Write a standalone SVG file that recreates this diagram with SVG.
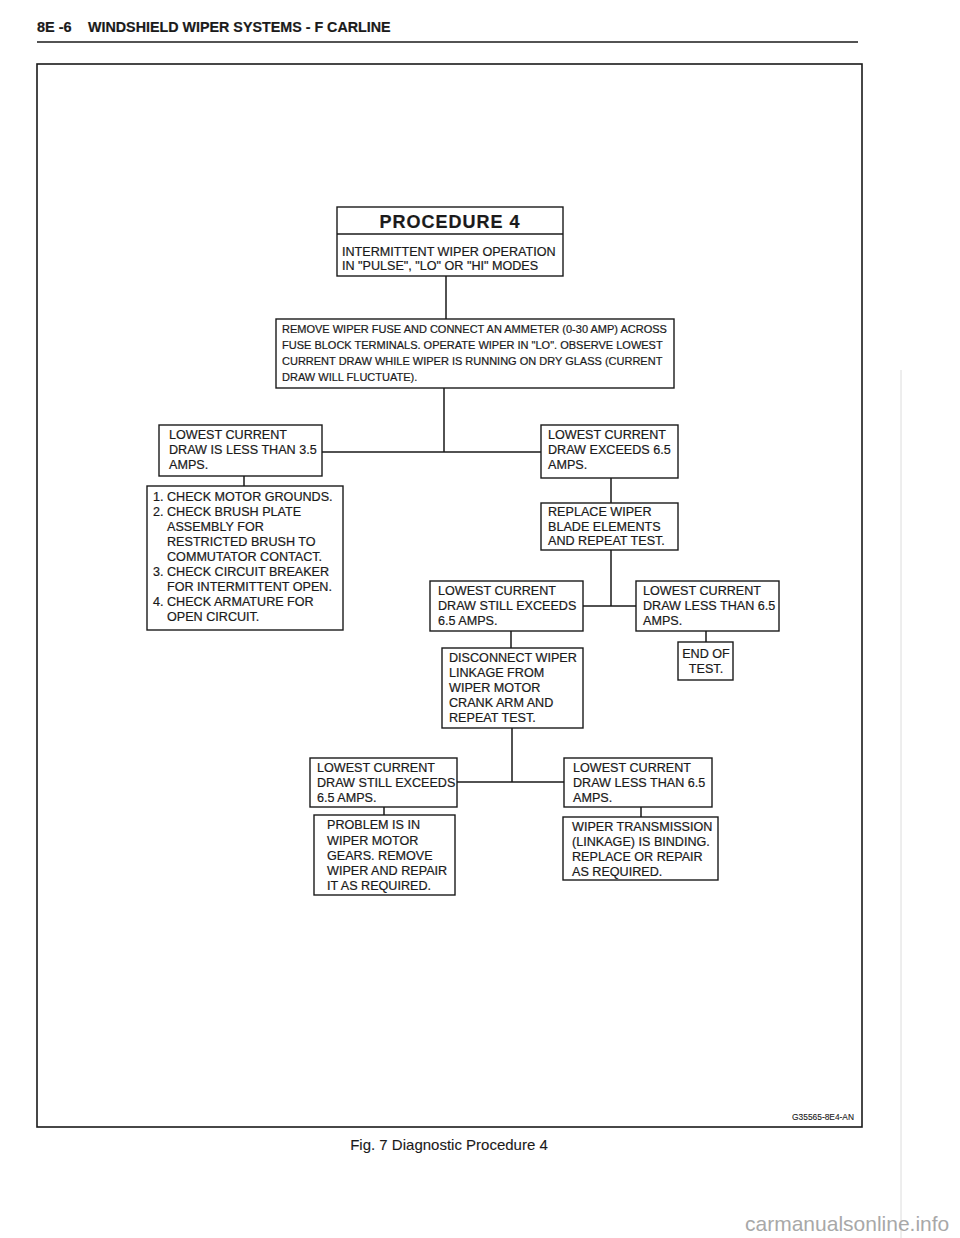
<svg xmlns="http://www.w3.org/2000/svg" width="960" height="1238" viewBox="0 0 960 1238">
<style>
.box{fill:#fff;stroke:#1a1a1a;stroke-width:1.4}
.ln{fill:none;stroke:#1a1a1a;stroke-width:1.5}
.t{font-family:"Liberation Sans",Arial,Helvetica,sans-serif;font-size:12.6px;fill:#1a1a1a;stroke:#1a1a1a;stroke-width:0.2}
.s{font-size:11px}
.b{font-weight:bold}
</style>
<rect width="960" height="1238" fill="#fff"/>
<g id="header">
<text class="t b" x="37" y="32" style="font-size:14.5px">8E -6</text>
<text class="t b" x="88" y="32" style="font-size:14.3px">WINDSHIELD WIPER SYSTEMS - F CARLINE</text>
<line x1="37" y1="42" x2="858" y2="42" stroke="#1a1a1a" stroke-width="1.6"/>
</g>
<rect id="frame" x="37" y="64" width="825" height="1063" fill="none" stroke="#1a1a1a" stroke-width="1.6"/>
<g id="connectors">
<path class="ln" d="M446,276V319 M444,388V452 M322,452H541 M244,476V486 M611,478V503 M611,550V606 M583,606H636 M511,631V648 M706,631V642 M512,728V782 M457,782H564 M384,807V815 M641,807V817"/>
</g>
<g id="n-procedure">
<rect class="box" x="337" y="207" width="226" height="69"/>
<line x1="337" y1="234" x2="563" y2="234" stroke="#1a1a1a" stroke-width="1.4"/>
<text class="t b" x="450" y="228" text-anchor="middle" style="font-size:18px;letter-spacing:1px">PROCEDURE 4</text>
<text class="t" x="342" y="256">INTERMITTENT WIPER OPERATION</text>
<text class="t" x="342" y="270">IN "PULSE", "LO" OR "HI" MODES</text>
</g>
<g id="n-remove">
<rect class="box" x="276" y="319" width="398" height="69"/>
<text class="t s" x="282" y="333">REMOVE WIPER FUSE AND CONNECT AN AMMETER (0-30 AMP) ACROSS</text>
<text class="t s" x="282" y="349">FUSE BLOCK TERMINALS. OPERATE WIPER IN "LO". OBSERVE LOWEST</text>
<text class="t s" x="282" y="365">CURRENT DRAW WHILE WIPER IS RUNNING ON DRY GLASS (CURRENT</text>
<text class="t s" x="282" y="381">DRAW WILL FLUCTUATE).</text>
</g>
<g id="n-less35">
<rect class="box" x="159" y="425" width="163" height="51"/>
<text class="t" x="169" y="439">LOWEST CURRENT</text>
<text class="t" x="169" y="454">DRAW IS LESS THAN 3.5</text>
<text class="t" x="169" y="469">AMPS.</text>
</g>
<g id="n-checks">
<rect class="box" x="147" y="486" width="196" height="144"/>
<text class="t" x="153" y="501">1. CHECK MOTOR GROUNDS.</text>
<text class="t" x="153" y="516">2. CHECK BRUSH PLATE</text>
<text class="t" x="167" y="531">ASSEMBLY FOR</text>
<text class="t" x="167" y="546">RESTRICTED BRUSH TO</text>
<text class="t" x="167" y="561">COMMUTATOR CONTACT.</text>
<text class="t" x="153" y="576">3. CHECK CIRCUIT BREAKER</text>
<text class="t" x="167" y="591">FOR INTERMITTENT OPEN.</text>
<text class="t" x="153" y="606">4. CHECK ARMATURE FOR</text>
<text class="t" x="167" y="621">OPEN CIRCUIT.</text>
</g>
<g id="n-exceeds65">
<rect class="box" x="541" y="425" width="137" height="53"/>
<text class="t" x="548" y="439">LOWEST CURRENT</text>
<text class="t" x="548" y="454">DRAW EXCEEDS 6.5</text>
<text class="t" x="548" y="469">AMPS.</text>
</g>
<g id="n-replace">
<rect class="box" x="541" y="503" width="137" height="47"/>
<text class="t" x="548" y="516">REPLACE WIPER</text>
<text class="t" x="548" y="531">BLADE ELEMENTS</text>
<text class="t" x="548" y="545">AND REPEAT TEST.</text>
</g>
<g id="n-still1">
<rect class="box" x="430" y="581" width="153" height="50"/>
<text class="t" x="438" y="595">LOWEST CURRENT</text>
<text class="t" x="438" y="610">DRAW STILL EXCEEDS</text>
<text class="t" x="438" y="625">6.5 AMPS.</text>
</g>
<g id="n-less1">
<rect class="box" x="636" y="581" width="143" height="50"/>
<text class="t" x="643" y="595">LOWEST CURRENT</text>
<text class="t" x="643" y="610">DRAW LESS THAN 6.5</text>
<text class="t" x="643" y="625">AMPS.</text>
</g>
<g id="n-end">
<rect class="box" x="678" y="642" width="55" height="38"/>
<text class="t" x="706" y="658" text-anchor="middle">END OF</text>
<text class="t" x="706" y="673" text-anchor="middle">TEST.</text>
</g>
<g id="n-disconnect">
<rect class="box" x="442" y="648" width="141" height="80"/>
<text class="t" x="449" y="662">DISCONNECT WIPER</text>
<text class="t" x="449" y="677">LINKAGE FROM</text>
<text class="t" x="449" y="692">WIPER MOTOR</text>
<text class="t" x="449" y="707">CRANK ARM AND</text>
<text class="t" x="449" y="722">REPEAT TEST.</text>
</g>
<g id="n-still2">
<rect class="box" x="310" y="758" width="147" height="49"/>
<text class="t" x="317" y="772">LOWEST CURRENT</text>
<text class="t" x="317" y="787">DRAW STILL EXCEEDS</text>
<text class="t" x="317" y="802">6.5 AMPS.</text>
</g>
<g id="n-less2">
<rect class="box" x="564" y="758" width="148" height="49"/>
<text class="t" x="573" y="772">LOWEST CURRENT</text>
<text class="t" x="573" y="787">DRAW LESS THAN 6.5</text>
<text class="t" x="573" y="802">AMPS.</text>
</g>
<g id="n-problem">
<rect class="box" x="314" y="815" width="141" height="80"/>
<text class="t" x="327" y="829">PROBLEM IS IN</text>
<text class="t" x="327" y="845">WIPER MOTOR</text>
<text class="t" x="327" y="860">GEARS. REMOVE</text>
<text class="t" x="327" y="875">WIPER AND REPAIR</text>
<text class="t" x="327" y="890">IT AS REQUIRED.</text>
</g>
<g id="n-transmission">
<rect class="box" x="563" y="817" width="155" height="63"/>
<text class="t" x="572" y="831">WIPER TRANSMISSION</text>
<text class="t" x="572" y="846">(LINKAGE) IS BINDING.</text>
<text class="t" x="572" y="861">REPLACE OR REPAIR</text>
<text class="t" x="572" y="876">AS REQUIRED.</text>
</g>
<g id="footer">
<text class="t" x="854" y="1120" text-anchor="end" style="font-size:8.4px;stroke-width:0.1">G35565-8E4-AN</text>
<text class="t" x="449" y="1150" text-anchor="middle" style="font-size:15px;stroke-width:0.1">Fig. 7 Diagnostic Procedure 4</text>
<line x1="901" y1="370" x2="901" y2="1238" stroke="#dcdcdc" stroke-width="1"/>
<text x="745" y="1231" style="font-family:'Liberation Sans',Arial,sans-serif;font-size:21px;fill:#a8a8a8">carmanualsonline.info</text>
</g>
</svg>
